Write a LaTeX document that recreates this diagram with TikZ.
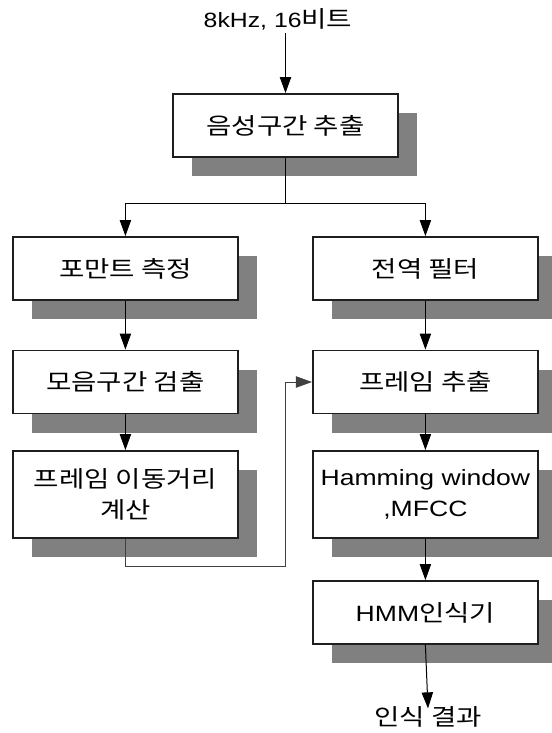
\documentclass[tikz,border=0pt]{standalone}
\usepackage{fontspec}
\setmainfont{Liberation Sans}[FakeStretch=1.2]
\newfontfamily\krfont{Noto Sans CJK KR}[FakeStretch=1.2]
\usetikzlibrary{arrows.meta,shadows,calc}
\definecolor{shade}{RGB}{128,128,128}
\definecolor{edge}{RGB}{30,30,30}
\newcommand\K[1]{{\krfont\fontsize{17.2}{23.5}\selectfont #1}}
\tikzset{
  stepbox/.style={draw=edge, line width=1.4pt, fill=white, minimum width=168.75pt, minimum height=47.25pt,
    align=center, inner sep=0pt, font=\fontsize{16.6}{23.5}\selectfont,
    drop shadow={shadow xshift=14.25pt, shadow yshift=-14.25pt, fill=shade, opacity=1}},
  tallbox/.style={stepbox, minimum height=65.25pt},
  conn/.style={draw=black, line width=0.75pt, -{Triangle[length=12pt,width=8.5pt]}},
  plainline/.style={draw=black, line width=0.75pt},
  fbline/.style={draw=black!75, line width=0.75pt, -{Triangle[length=12pt,width=8.5pt]}},
  lbl/.style={inner sep=0pt, font=\fontsize{15.5}{20}\selectfont}
}
\begin{document}
\begin{tikzpicture}[x=0.75pt,y=-0.75pt]
\clip (0,0) rectangle (552,733);
\useasboundingbox (0,0) rectangle (552,733);
\node[lbl] (inp) at (278,19) {8kHz, 16\K{비트}};
\node[stepbox] (top) at (285.5,125.5) {\K{음성구간 추출}};
\node[stepbox] (l1) at (125.4,268.5) {\K{포만트 측정}};
\node[stepbox] (r1) at (425.4,268.5) {\K{전역 필터}};
\node[stepbox] (l2) at (125.4,382) {\K{모음구간 검출}};
\node[stepbox] (r2) at (425.4,382) {\K{프레임 추출}};
\node[tallbox] (l3) at (125.4,494.5) {\K{프레임 이동거리}\\\K{계산}};
\node[tallbox] (r3) at (425.4,494.5) {Hamming window\\,MFCC};
\node[stepbox] (r4) at (425.4,612.5) {HMM\K{인식기}};
\node[lbl] (out) at (428,717) {\K{인식 결과}};
\coordinate (j) at (285.5,203);
\coordinate (fb) at (285,566);
\draw[conn] (top.north |- inp.south) ++(0,3) -- (top.north);
\draw[plainline] (top.south) -- (j);
\draw[conn] (j) -| (l1.north);
\draw[conn] (j) -| (r1.north);
\draw[conn] (l1) -- (l2);
\draw[conn] (r1) -- (r2);
\draw[conn] (l2) -- (l3);
\draw[conn] (r2) -- (r3);
\draw[conn] (r3) -- (r4);
\draw[fbline] (l3.south) |- (fb) |- (r2.west);
\draw[conn] (r4.south) -- ($(out.north)+(0,2)$);
\end{tikzpicture}
\end{document}
